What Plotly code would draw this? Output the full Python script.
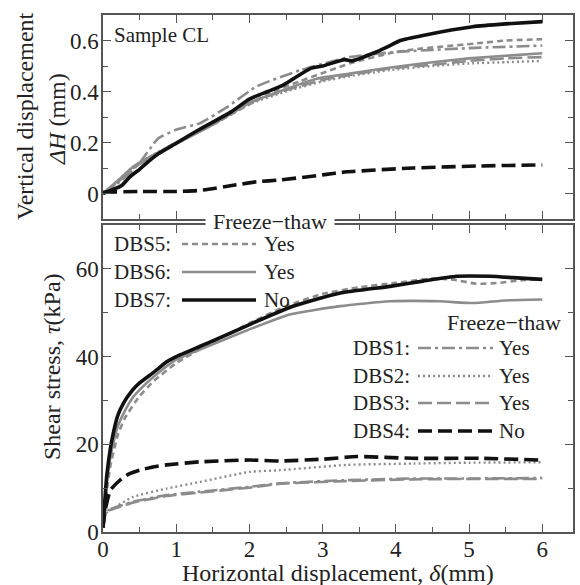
import plotly.graph_objects as go

# ---- vertical displacement (top panel), delta H in mm ----
dh_x1 = [0, 0.25, 0.5, 0.64, 0.75, 1.0, 1.32, 1.7, 2.1, 2.7, 3.37, 4.0, 5.0, 6.0]
dh_1 = [0, 0.05, 0.12, 0.175, 0.215, 0.25, 0.275, 0.34, 0.42, 0.484, 0.535, 0.555, 0.57, 0.58]

dh_x2 = [0, 0.2, 0.41, 0.64, 1.0, 1.5, 2.0, 2.5, 3.0, 3.37, 3.92, 4.5, 5.0, 5.5, 6.0]
dh_2 = [0, 0.05, 0.105, 0.145, 0.2, 0.27, 0.35, 0.40, 0.44, 0.46, 0.484, 0.50, 0.51, 0.515, 0.52]

dh_x3 = [0, 0.2, 0.41, 0.64, 1.0, 1.5, 2.0, 2.5, 3.0, 3.37, 3.92, 4.5, 5.0, 5.5, 6.0]
dh_3 = [0, 0.045, 0.1, 0.14, 0.2, 0.275, 0.355, 0.405, 0.445, 0.465, 0.49, 0.505, 0.52, 0.53, 0.535]

dh_x4 = [0, 0.5, 1.0, 1.32, 1.8, 2.1, 2.42, 3.0, 3.33, 4.24, 5.15, 6.0]
dh_4 = [0.005, 0.008, 0.008, 0.012, 0.033, 0.046, 0.053, 0.073, 0.085, 0.10, 0.108, 0.112]

dh_x5 = [0, 0.2, 0.41, 0.64, 1.0, 1.5, 2.0, 2.24, 2.69, 3.37, 3.92, 4.24, 5.15, 5.5, 6.0]
dh_5 = [0, 0.045, 0.1, 0.14, 0.2, 0.27, 0.35, 0.39, 0.44, 0.51, 0.55, 0.565, 0.59, 0.60, 0.605]

dh_x6 = [0, 0.2, 0.41, 0.64, 1.0, 1.5, 2.0, 2.46, 2.92, 3.37, 3.83, 4.5, 5.0, 5.5, 6.0]
dh_6 = [0, 0.05, 0.105, 0.144, 0.195, 0.27, 0.355, 0.405, 0.45, 0.47, 0.49, 0.515, 0.53, 0.54, 0.55]

dh_x7 = [0, 0.25, 0.37, 0.5, 0.64, 0.75, 1.0, 1.25, 1.5, 1.75, 2.0, 2.25, 2.46, 2.83,
         3.0, 3.3, 3.4, 3.74, 3.92, 4.06, 4.37, 5.05, 5.5, 6.0]
dh_7 = [0, 0.03, 0.066, 0.095, 0.13, 0.155, 0.197, 0.24, 0.28, 0.32, 0.37, 0.40, 0.425, 0.49,
        0.50, 0.525, 0.52, 0.556, 0.58, 0.60, 0.62, 0.654, 0.665, 0.674]

# ---- shear stress (bottom panel), tau in kPa ----
ss_x1 = [0, 0.03, 0.05, 0.1, 0.2, 0.41, 0.87, 1.32, 2.0, 2.42, 3.3, 4.24, 5.0, 6.0]
ss_1 = [1, 4, 5.5, 5.3, 5.8, 6.9, 8.4, 9.2, 10.3, 11.1, 11.8, 12.2, 12.2, 12.3]

ss_x2 = [0, 0.03, 0.1, 0.41, 0.87, 1.32, 2.0, 2.42, 3.33, 4.24, 5.0, 6.0]
ss_2 = [1, 4, 5, 8, 9.9, 11.4, 13.7, 14.1, 15.3, 15.6, 15.8, 15.9]

ss_x3 = [0, 0.03, 0.05, 0.1, 0.2, 0.41, 0.87, 1.32, 2.0, 2.42, 3.3, 4.24, 5.0, 6.0]
ss_3 = [1, 4.5, 5.0, 5.0, 5.6, 6.7, 8.2, 9.0, 10.1, 11.0, 11.6, 12.0, 12.1, 12.1]

ss_x4 = [0, 0.03, 0.1, 0.23, 0.35, 0.5, 0.7, 0.87, 1.32, 2.0, 2.42, 3.0, 3.47, 4.24, 5.15, 6.0]
ss_4 = [1, 5, 9.5, 11.8, 13.2, 14.1, 14.9, 15.3, 16, 16.4, 16.2, 16.6, 17.2, 16.8, 16.8, 16.4]

ss_x5 = [0, 0.02, 0.05, 0.1, 0.2, 0.3, 0.5, 0.7, 1.0, 1.5, 2.0, 2.5, 3.0, 3.5, 4.0, 4.5,
         4.8, 5.1, 5.4, 5.7, 6.0]
ss_5 = [1, 4, 9, 15, 22, 26, 31, 34.5, 38.5, 43.3, 47.6, 51.5, 54.3, 55.8, 56.8, 57.8,
        57.5, 56.6, 56.8, 57.4, 57.6]

ss_x6 = [0, 0.02, 0.05, 0.1, 0.14, 0.2, 0.28, 0.4, 0.5, 0.7, 1.0, 1.5, 2.0, 2.55,
         3.24, 3.92, 4.6, 5.05, 5.5, 6.0]
ss_6 = [1, 5, 11, 17, 20.2, 24, 27, 30.5, 32.4, 35.5, 39.3, 42.8, 46.2, 49.6,
        51.5, 52.6, 52.6, 52.2, 52.8, 53]

ss_x7 = [0, 0.02, 0.05, 0.1, 0.14, 0.2, 0.28, 0.4, 0.5, 0.7, 0.87, 1.0, 1.32, 1.6, 2.0,
         2.55, 3.24, 3.92, 4.37, 4.83, 5.29, 5.6, 6.0]
ss_7 = [1, 6, 12.6, 19, 22.5, 26.5, 29.4, 32.3, 34, 36.5, 38.8, 40, 42.3, 44.3,
        47.3, 51.2, 54.5, 56, 57.2, 58.3, 58.3, 58, 57.6]

labels_top = ["DBS5:", "DBS6:", "DBS7:"]
ft_top = ["Yes", "Yes", "No"]
labels_bot = ["DBS1:", "DBS2:", "DBS3:", "DBS4:"]
ft_bot = ["Yes", "Yes", "Yes", "No"]

GRAY = "#8c8c8c"
BLACK = "#111111"
FONT = "Liberation Serif, Times New Roman, Times, serif"

# style per specimen: colour, width, dash
styles = {
    1: (GRAY, 2.6, "13px,4px,3px,4px"),
    2: (GRAY, 2.4, "2px,3px"),
    3: (GRAY, 2.6, "14px,5px"),
    4: (BLACK, 3.6, "14px,6px"),
    5: (GRAY, 2.6, "6px,4px"),
    6: (GRAY, 2.6, "solid"),
    7: (BLACK, 3.6, "solid"),
}

top_data = {1: (dh_x1, dh_1), 2: (dh_x2, dh_2), 3: (dh_x3, dh_3), 4: (dh_x4, dh_4),
            5: (dh_x5, dh_5), 6: (dh_x6, dh_6), 7: (dh_x7, dh_7)}
bot_data = {1: (ss_x1, ss_1), 2: (ss_x2, ss_2), 3: (ss_x3, ss_3), 4: (ss_x4, ss_4),
            5: (ss_x5, ss_5), 6: (ss_x6, ss_6), 7: (ss_x7, ss_7)}

fig = go.Figure()
for k in [1, 2, 3, 5, 6, 4, 7]:
    c, w, d = styles[k]
    x, y = top_data[k]
    fig.add_trace(go.Scatter(x=x, y=y, mode="lines",
                             line=dict(color=c, width=w, dash=d, shape="spline", smoothing=0.5),
                             xaxis="x", yaxis="y", showlegend=False))
    x, y = bot_data[k]
    fig.add_trace(go.Scatter(x=x, y=y, mode="lines",
                             line=dict(color=c, width=w, dash=d, shape="spline", smoothing=0.5),
                             xaxis="x2", yaxis="y2", showlegend=False))

W, H = 580, 585
ML, MR, MT, MB = 103, 7, 15, 53
PW, PH = W - ML - MR, H - MT - MB


def px(x):
    return (x - ML) / PW


def py(y):
    return (H - MB - y) / PH


axis_common = dict(showline=True, linecolor="#555", linewidth=1.5, mirror="allticks",
                   ticks="inside", ticklen=8, tickwidth=1.2, tickcolor="#555",
                   showgrid=False, zeroline=False, automargin=False,
                   tickfont=dict(family=FONT, size=23, color="#222"))

fig.update_layout(
    width=W, height=H,
    margin=dict(l=ML, r=MR, t=MT, b=MB, autoexpand=False),
    paper_bgcolor="white", plot_bgcolor="white",
    font=dict(family=FONT, size=21, color="#222"),
    xaxis=dict(axis_common, domain=[0, 1], range=[0, 6.42], anchor="y", dtick=1, tick0=0,
               showticklabels=False,
               minor=dict(dtick=0.5, tick0=0, ticks="inside", ticklen=5, tickcolor="#555")),
    yaxis=dict(axis_common, domain=[py(219), 1], range=[-0.1, 0.7], anchor="x",
               tickvals=[0, 0.2, 0.4, 0.6], ticktext=["0", "0.2", "0.4", "0.6"],
               ticklabelstandoff=-2,
               minor=dict(dtick=0.1, tick0=0, ticks="inside", ticklen=5, tickcolor="#555")),
    xaxis2=dict(axis_common, domain=[0, 1], range=[0, 6.42], anchor="y2", dtick=1, tick0=0,
                tickvals=[0, 1, 2, 3, 4, 5, 6], ticklabelstandoff=-4,
                minor=dict(dtick=0.5, tick0=0, ticks="inside", ticklen=5, tickcolor="#555")),
    yaxis2=dict(axis_common, domain=[0, py(225)], range=[0, 70], anchor="x2",
                tickvals=[0, 20, 40, 60], ticklabelstandoff=-2,
                minor=dict(dtick=10, tick0=0, ticks="inside", ticklen=5, tickcolor="#555")),
)

ann = []
# header of the upper legend sits on the boundary between the panels
ann.append(dict(text="Freeze\u2212thaw", x=px(270), y=py(221), xref="paper", yref="paper",
                xanchor="center", yanchor="middle", showarrow=False, bgcolor="white",
                borderpad=7, font=dict(size=22)))
ann.append(dict(text="Sample CL", x=px(112), y=py(35), xref="paper", yref="paper",
                xanchor="left", yanchor="middle", showarrow=False, font=dict(size=21)))

shapes = []
top_rows = [244, 272, 300]
for lab, ft, yy, k in zip(labels_top, ft_top, top_rows, [5, 6, 7]):
    c, w, d = styles[k]
    ann.append(dict(text=lab, x=px(112), y=py(yy), xref="paper", yref="paper", xanchor="left",
                    yanchor="middle", showarrow=False, font=dict(size=21)))
    ann.append(dict(text=ft, x=px(262), y=py(yy), xref="paper", yref="paper", xanchor="left",
                    yanchor="middle", showarrow=False, font=dict(size=21)))
    shapes.append(dict(type="line", xref="paper", yref="paper", x0=px(182), x1=px(256),
                       y0=py(yy), y1=py(yy), line=dict(color=c, width=w, dash=d)))

ann.append(dict(text="Freeze\u2212thaw", x=px(563), y=py(322), xref="paper", yref="paper",
                xanchor="right", yanchor="middle", showarrow=False, font=dict(size=22)))
bot_rows = [348, 376, 403, 431]
for lab, ft, yy, k in zip(labels_bot, ft_bot, bot_rows, [1, 2, 3, 4]):
    c, w, d = styles[k]
    ann.append(dict(text=lab, x=px(351), y=py(yy), xref="paper", yref="paper", xanchor="left",
                    yanchor="middle", showarrow=False, font=dict(size=21)))
    ann.append(dict(text=ft, x=px(497), y=py(yy), xref="paper", yref="paper", xanchor="left",
                    yanchor="middle", showarrow=False, font=dict(size=21)))
    shapes.append(dict(type="line", xref="paper", yref="paper", x0=px(418), x1=px(493),
                       y0=py(yy), y1=py(yy), line=dict(color=c, width=w, dash=d)))

# axis titles
ann.append(dict(text="Vertical displacement", x=px(25), y=py(116), xref="paper", yref="paper",
                textangle=-90, xanchor="center", yanchor="middle", showarrow=False,
                font=dict(size=24)))
ann.append(dict(text="<i>ΔH</i> (mm)", x=px(57), y=py(119), xref="paper", yref="paper",
                textangle=-90, xanchor="center", yanchor="middle", showarrow=False,
                font=dict(size=24)))
ann.append(dict(text="Shear stress, <i>τ</i>(kPa)", x=px(52), y=py(367), xref="paper", yref="paper",
                textangle=-90, xanchor="center", yanchor="middle", showarrow=False,
                font=dict(size=24)))
ann.append(dict(text="Horizontal displacement, <i>δ</i>(mm)", x=px(338), y=py(573), xref="paper",
                yref="paper", xanchor="center", yanchor="middle", showarrow=False,
                font=dict(size=24)))

fig.update_layout(annotations=ann, shapes=shapes)
# the default page adds an 8px body margin; remove it so the figure sits at the corner
fig.write_html("out.html", config={"displayModeBar": False},
               post_script="document.body.style.margin='0';")
